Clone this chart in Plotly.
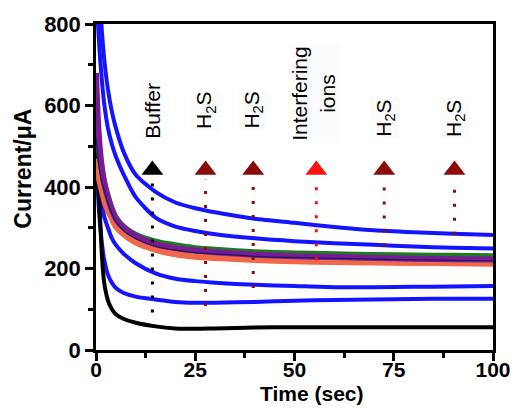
import plotly.graph_objects as go

# time points (s)
t = [0, 0.5, 1, 1.5, 2, 3, 4, 5, 7, 10, 15, 20, 25, 30, 40, 50, 60, 70, 80, 90, 100]

blue1 = [1100, 950, 850, 780, 720, 640, 585, 545, 485, 430, 388, 362, 348, 338, 322, 312, 302, 294, 289, 285, 282]
blue2 = [900, 800, 720, 660, 610, 545, 505, 475, 430, 375, 325, 303, 292, 284, 274, 267, 262, 258, 254, 251, 249]
green = [600, 520, 470, 440, 410, 375, 345, 325, 302, 283, 266, 257, 250, 246, 240, 237, 235, 233, 232, 231, 230]
purple = [680, 560, 490, 445, 415, 375, 345, 322, 300, 280, 260, 250, 244, 240, 234, 230, 228, 226, 224, 223, 222]
navy = [520, 470, 435, 412, 395, 360, 335, 315, 292, 273, 254, 245, 239, 236, 230, 227, 225, 223, 221, 220, 219]
orange = [470, 440, 415, 395, 375, 345, 325, 305, 285, 265, 247, 236, 230, 227, 222, 219, 217, 216, 215, 214, 213]
blue3 = [600, 480, 420, 375, 330, 300, 274, 258, 236, 213, 188, 175, 169, 165, 160, 157, 154, 154, 155, 156, 157]
blue4 = [500, 380, 310, 260, 225, 185, 165, 152, 140, 131, 124, 118, 116, 116, 118, 121, 123, 124, 125, 126, 126]
black = [520, 420, 330, 230, 170, 122, 100, 88, 76, 67, 58, 53, 52, 53, 55, 56, 56, 56, 56, 56, 56]

# additions (arrows)
add_x = [14.2, 27.6, 39.6, 55.5, 72.6, 90.3]
add_bottom = [92, 108, 152, 220, 254, 283]
add_top = 418
add_tri_y = 442
add_labels = ["Buffer", "H<sub>2</sub>S", "H<sub>2</sub>S", "Interfering<br>ions", "H<sub>2</sub>S", "H<sub>2</sub>S"]
add_label_y = [588, 588, 588, 630, 568, 568]
add_label_x = [14.2, 27.6, 39.6, 54.8, 72.6, 90.3]
add_colors = ["#000000", "#8b0a0a", "#8b0a0a", "#ff1010", "#8b0a0a", "#8b0a0a"]

BLUE = "#1414ff"
FONT = "Liberation Sans, Arial"
fig = go.Figure()

def line(y, color, width):
    fig.add_trace(go.Scatter(x=t, y=y, mode="lines",
                             line=dict(color=color, width=width, shape="spline", smoothing=0.7),
                             showlegend=False, hoverinfo="skip"))

line(blue1, BLUE, 4)
line(blue2, BLUE, 4)
line(blue3, BLUE, 4)
line(blue4, BLUE, 4)
line(black, "#000000", 4)
line(orange, "#f0674a", 7)
line(green, "#1f7a1f", 6)
line(purple, "#7a1a96", 6)
line(navy, "#1a1a60", 1.2)

for xa, yb, c in zip(add_x, add_bottom, add_colors):
    fig.add_trace(go.Scatter(x=[xa, xa], y=[yb, add_top], mode="lines",
                             line=dict(color=c, width=3, dash="3px,11px"),
                             showlegend=False, hoverinfo="skip"))
fig.add_trace(go.Scatter(x=add_x, y=[add_tri_y] * len(add_x), mode="markers",
                         marker=dict(symbol="triangle-up", size=19, color=add_colors),
                         showlegend=False, hoverinfo="skip"))

for xl, yl, txt in zip(add_label_x, add_label_y, add_labels):
    fig.add_annotation(x=xl, y=yl, text=txt, textangle=-90, showarrow=False,
                       xanchor="center", yanchor="middle",
                       font=dict(family=FONT, size=21, color="black"),
                       bgcolor="rgba(246,246,246,0.35)")

fig.add_annotation(xref="paper", yref="paper", x=-0.184, y=0.556, text="<b>Current/μA</b>",
                   textangle=-90, showarrow=False, xanchor="center", yanchor="middle",
                   font=dict(family=FONT, size=23, color="black"))
fig.add_annotation(xref="x", yref="paper", x=54.5, y=-0.133, text="<b>Time (sec)</b>",
                   showarrow=False, xanchor="center", yanchor="middle",
                   font=dict(family=FONT, size=21, color="black"))

axis_common = dict(showline=True, linecolor="black", linewidth=2.5, mirror=True,
                   ticks="outside", ticklen=8, tickwidth=2.5, tickcolor="black",
                   showgrid=False, zeroline=False,
                   tickfont=dict(family=FONT, size=22, color="black", weight="bold"))

fig.update_xaxes(range=[0, 100], tickvals=[0, 25, 50, 75, 100], ticklabelstandoff=-9,
                 tickfont=dict(family=FONT, size=21, color="black", weight="bold"),
                 minor=dict(tickvals=[12.5, 37.5, 62.5, 87.5], ticklen=5, tickwidth=2.5,
                            tickcolor="black", ticks="outside"),
                 **{k: v for k, v in axis_common.items() if k != "tickfont"})
fig.update_yaxes(range=[0, 800], tickvals=[0, 200, 400, 600, 800],
                 minor=dict(tickvals=[100, 300, 500, 700], ticklen=5, tickwidth=2.5,
                            tickcolor="black", ticks="outside"),
                 **axis_common)

fig.update_layout(width=523, height=408, margin=dict(l=96, r=25, t=19, b=58),
                  paper_bgcolor="white", plot_bgcolor="white")

fig.write_html("out.html")
